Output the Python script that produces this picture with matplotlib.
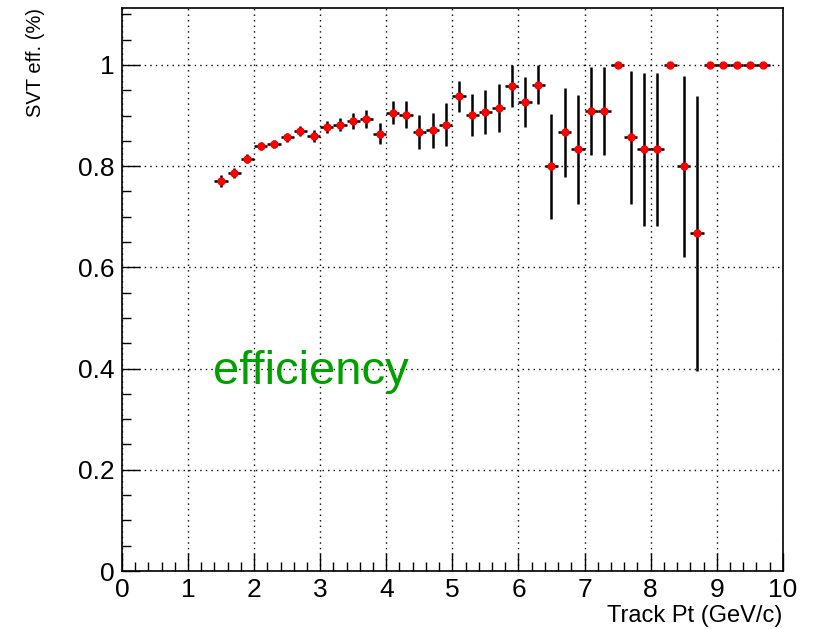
import numpy as np
import matplotlib
matplotlib.use("Agg")
import matplotlib.pyplot as plt
from matplotlib.ticker import MultipleLocator, FuncFormatter

plt.rcParams['font.family'] = ['Liberation Sans', 'DejaVu Sans']

# bin centres (GeV/c)
pt = [1.5, 1.7, 1.9, 2.1, 2.3, 2.5, 2.7, 2.9, 3.1, 3.3,
      3.5, 3.7, 3.9, 4.1, 4.3, 4.5, 4.7, 4.9, 5.1, 5.3,
      5.5, 5.7, 5.9, 6.1, 6.3, 6.5, 6.7, 6.9, 7.1, 7.3,
      7.5, 7.7, 7.9, 8.1, 8.3, 8.5, 8.7, 8.9, 9.1, 9.3,
      9.5, 9.7]
eff = [0.771, 0.787, 0.815, 0.839, 0.843, 0.857, 0.869, 0.859, 0.877, 0.882,
       0.889, 0.894, 0.864, 0.906, 0.902, 0.867, 0.871, 0.882, 0.938, 0.901,
       0.907, 0.915, 0.958, 0.927, 0.961, 0.800, 0.867, 0.833, 0.909, 0.909,
       1.0, 0.857, 0.833, 0.833, 1.0, 0.800, 0.667, 1.0, 1.0, 1.0,
       1.0, 1.0]
eff_err = [0.012, 0.010, 0.009, 0.008, 0.008, 0.009, 0.010, 0.012, 0.012, 0.013,
           0.016, 0.018, 0.021, 0.022, 0.026, 0.034, 0.035, 0.042, 0.030, 0.042,
           0.044, 0.047, 0.042, 0.050, 0.039, 0.104, 0.088, 0.108, 0.087, 0.087,
           0.0, 0.132, 0.152, 0.152, 0.0, 0.179, 0.272, 0.0, 0.0, 0.0,
           0.0, 0.0]
bin_half = 0.1

fig = plt.figure(figsize=(8.18, 6.29), dpi=100)
ax = fig.add_axes([0.149, 0.0922, 0.808, 0.8946])

ax.errorbar(pt, eff, xerr=bin_half, yerr=eff_err, fmt='o', color='black',
            ecolor='black', elinewidth=1.8, capsize=0,
            markerfacecolor='red', markeredgecolor='red', markersize=5, zorder=3)

ax.set_xlim(0, 10)
ax.set_ylim(0, 1.112)

ax.xaxis.set_major_locator(MultipleLocator(1))
ax.xaxis.set_minor_locator(MultipleLocator(0.2))
ax.yaxis.set_major_locator(MultipleLocator(0.2))
ax.yaxis.set_minor_locator(MultipleLocator(0.05))
ax.yaxis.set_major_formatter(FuncFormatter(lambda v, p: f'{v:g}'))

ax.tick_params(which='both', direction='in', top=False, right=False,
               labelsize=19, pad=5)
ax.tick_params(which='major', length=13, width=1)
ax.tick_params(which='minor', length=6.5, width=1)

ax.grid(True, which='major', color='black', linestyle=(0, (1, 3)), linewidth=1)
for s in ax.spines.values():
    s.set_linewidth(1.2)

ax.set_xlabel('Track Pt (GeV/c)', fontsize=17, loc='right', labelpad=2)
ax.set_ylabel('SVT eff. (%)', fontsize=14.5, loc='top', labelpad=24)

ax.text(1.38, 0.37, 'efficiency', color='#00a000', fontsize=34, zorder=4)

fig.savefig('out.png', dpi=100)
